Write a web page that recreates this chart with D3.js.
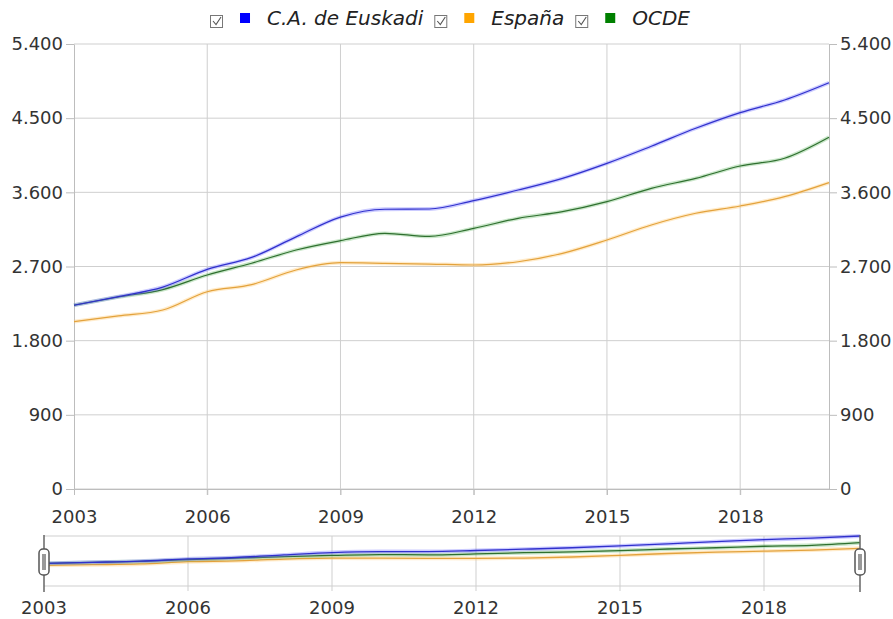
<!DOCTYPE html>
<html>
<head>
<meta charset="utf-8">
<script src="https://cdn.jsdelivr.net/npm/d3@7"></script>
<style>
  html, body { margin: 0; padding: 0; background: #fff; }
  svg { display: block; font-family: 'DejaVu Sans', Verdana, sans-serif; }
</style>
</head>
<body>
<svg id="chart" width="893" height="619"></svg>
<script>
const years = [2003, 2004, 2005, 2006, 2007, 2008, 2009, 2010, 2011, 2012, 2013, 2014, 2015, 2016, 2017, 2018, 2019, 2020];
const euskadi = [2230, 2335, 2450, 2665, 2810, 3060, 3300, 3395, 3398, 3500, 3628, 3770, 3952, 4160, 4377, 4567, 4721, 4930];
const espana = [2030, 2100, 2172, 2394, 2480, 2658, 2746, 2739, 2730, 2718, 2758, 2860, 3022, 3204, 3346, 3434, 3547, 3717];
const ocde = [2230, 2330, 2420, 2597, 2740, 2900, 3013, 3103, 3065, 3163, 3285, 3365, 3487, 3649, 3770, 3920, 4013, 4268];
const yTicks = [0, 900, 1800, 2700, 3600, 4500, 5400];
const xTicks = [2003, 2006, 2009, 2012, 2015, 2018];

const series = [
  { label: 'C.A. de Euskadi', values: euskadi, key: '#0000ff', line: '#3030cc', halo: '#6a6aff' },
  { label: 'España', values: espana, key: '#ffa500', line: '#e3a23c', halo: '#ffc766' },
  { label: 'OCDE', values: ocde, key: '#008000', line: '#2f6f2f', halo: '#66bb66' },
];

const locale = d3.formatLocale({ decimal: ',', thousands: '.', grouping: [3], currency: ['', ''] });
const fmt = locale.format(',');

const svg = d3.select('#chart');
const gridColor = '#cfcfcf';
const axisColor = '#bdbdbd';
const textColor = '#333';
const fontSize = 18;

// main plot
const x = d3.scaleLinear().domain([2003, 2020]).range([74, 829]);
const y = d3.scaleLinear().domain([0, 5400]).range([489, 44]);

const grid = svg.append('g');
grid.selectAll('line.h')
  .data(yTicks)
  .join('line')
  .attr('class', 'h')
  .attr('x1', x.range()[0])
  .attr('x2', x.range()[1])
  .attr('y1', (d) => y(d))
  .attr('y2', (d) => y(d))
  .attr('stroke', gridColor);
grid.selectAll('line.v')
  .data(xTicks.slice(1))
  .join('line')
  .attr('class', 'v')
  .attr('x1', (d) => x(d))
  .attr('x2', (d) => x(d))
  .attr('y1', y.range()[1])
  .attr('y2', y.range()[0] + 6)
  .attr('stroke', gridColor);

const styleAxis = (g) => {
  g.attr('font-family', null).attr('font-size', null);
  g.selectAll('path.domain').attr('stroke', axisColor);
  g.selectAll('.tick line').attr('stroke', axisColor);
  g.selectAll('.tick text').attr('fill', textColor).attr('font-size', fontSize);
};

svg.append('g')
  .attr('transform', `translate(${x.range()[0]},0)`)
  .call(d3.axisLeft(y).tickValues(yTicks).tickFormat(fmt).tickSizeInner(8).tickSizeOuter(0).tickPadding(3))
  .call(styleAxis);
svg.append('g')
  .attr('transform', `translate(${x.range()[1]},0)`)
  .call(d3.axisRight(y).tickValues(yTicks).tickFormat(fmt).tickSizeInner(8).tickSizeOuter(0).tickPadding(3))
  .call(styleAxis);
svg.append('g')
  .attr('transform', `translate(0,${y.range()[0]})`)
  .call(d3.axisBottom(x).tickValues(xTicks).tickFormat(d3.format('d')).tickSizeInner(6).tickSizeOuter(0).tickPadding(15))
  .call(styleAxis);

const line = d3.line()
  .x((d, i) => x(years[i]))
  .y((d) => y(d))
  .curve(d3.curveMonotoneX);

const drawLines = (g, lineGen, w) => {
  // euskadi last so it sits on top where it meets ocde
  [series[1], series[2], series[0]].forEach((s) => {
    g.append('path')
      .attr('d', lineGen(s.values))
      .attr('fill', 'none')
      .attr('stroke', s.halo)
      .attr('stroke-opacity', 0.35)
      .attr('stroke-width', w + 2.6);
    g.append('path')
      .attr('d', lineGen(s.values))
      .attr('fill', 'none')
      .attr('stroke', s.line)
      .attr('stroke-width', w);
  });
};
drawLines(svg.append('g'), line, 1.2);

// legend
const legend = svg.append('g').attr('font-size', 20).attr('font-style', 'italic');
let lx = 0;
series.forEach((s) => {
  const item = legend.append('g').attr('transform', `translate(${lx},0)`);
  item.append('rect')
    .attr('x', 0.5).attr('y', 15.5).attr('width', 12).attr('height', 12)
    .attr('fill', '#fff').attr('stroke', '#777');
  item.append('path')
    .attr('d', 'M3,21 L6,24.5 L11,17')
    .attr('fill', 'none').attr('stroke', '#555').attr('stroke-width', 1.1);
  item.append('rect')
    .attr('x', 30).attr('y', 13).attr('width', 10).attr('height', 10)
    .attr('fill', s.key);
  const t = item.append('text')
    .attr('x', 57).attr('y', 25)
    .attr('fill', '#222')
    .text(s.label);
  lx += 57 + t.node().getComputedTextLength() + 11;
});
legend.attr('transform', `translate(${450 - (lx - 11) / 2},0)`);

// navigator
const nx = d3.scaleLinear().domain([2003, 2020]).range([44, 860]);
const ny = d3.scaleLinear().domain([0, d3.max(euskadi)]).range([586, 536]);
const nav = svg.append('g');
nav.selectAll('line.v')
  .data(xTicks.slice(1))
  .join('line')
  .attr('x1', (d) => nx(d))
  .attr('x2', (d) => nx(d))
  .attr('y1', 536)
  .attr('y2', 591)
  .attr('stroke', gridColor);
nav.selectAll('line.h')
  .data([536, 586])
  .join('line')
  .attr('x1', nx.range()[0])
  .attr('x2', nx.range()[1])
  .attr('y1', (d) => d)
  .attr('y2', (d) => d)
  .attr('stroke', gridColor);
const navLine = d3.line()
  .x((d, i) => nx(years[i]))
  .y((d) => ny(d))
  .curve(d3.curveMonotoneX);
drawLines(nav.append('g'), navLine, 1.3);

nav.selectAll('text')
  .data(xTicks)
  .join('text')
  .attr('x', (d) => nx(d))
  .attr('y', 614)
  .attr('text-anchor', 'middle')
  .attr('font-size', fontSize)
  .attr('fill', textColor)
  .text((d) => d);

// handles
[2003, 2020].forEach((yr) => {
  const hx = nx(yr);
  const h = nav.append('g').attr('transform', `translate(${hx},0)`);
  h.append('line').attr('y1', 535).attr('y2', 592).attr('stroke', '#666').attr('stroke-width', 1.5);
  h.append('rect')
    .attr('x', -5).attr('y', 549).attr('width', 10).attr('height', 26).attr('rx', 4)
    .attr('fill', '#fff').attr('stroke', '#555').attr('stroke-width', 1.5);
  h.append('rect')
    .attr('x', -2).attr('y', 554).attr('width', 4).attr('height', 16)
    .attr('fill', '#999');
});
</script>
</body>
</html>
